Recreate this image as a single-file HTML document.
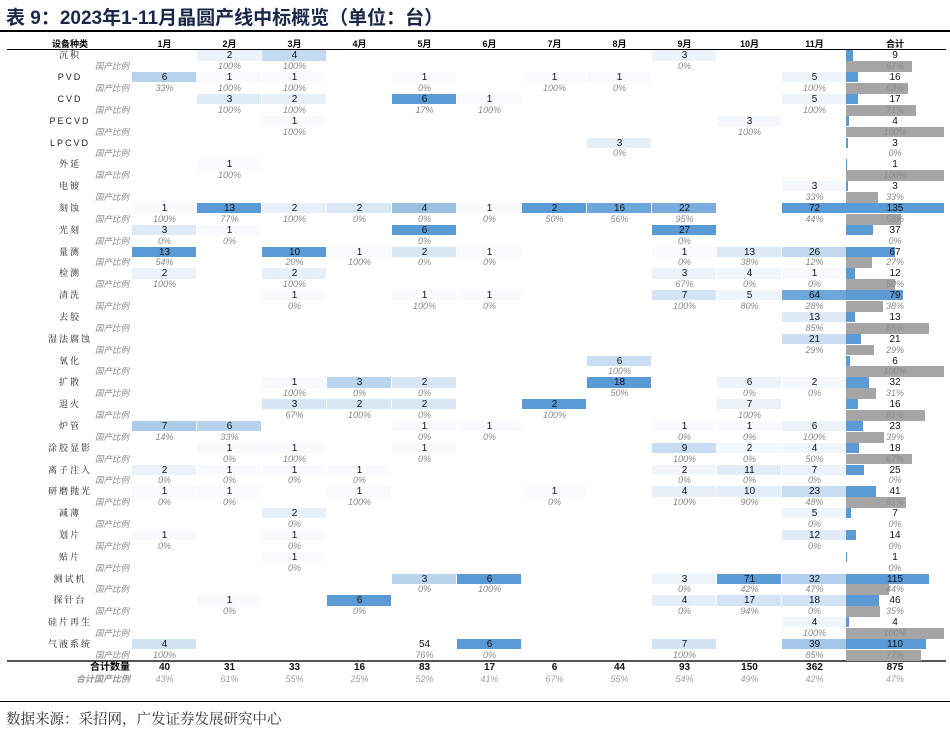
<!DOCTYPE html>
<html><head><meta charset="utf-8">
<style>
body{margin:0;width:950px;height:733px;background:#fff;position:relative;overflow:hidden;font-family:"Liberation Sans","Noto Sans CJK SC",sans-serif;}
.a{position:absolute;box-sizing:border-box;}
.t{position:absolute;text-align:center;white-space:nowrap;line-height:11px;}
.cnt{font-size:10px;color:#111;}
.rat{font-size:9px;font-style:italic;color:#8a8a8a;}
.cat{font-size:9px;color:#222;font-family:"Liberation Sans","Noto Serif CJK SC",serif;letter-spacing:2px;}
.gc{font-size:8.5px;font-style:italic;color:#8a8a8a;font-family:"Noto Sans CJK SC",sans-serif;}
.hd{font-size:9px;font-weight:bold;color:#000;}
</style></head><body>
<div class="a" style="left:6px;top:3px;font-size:19px;font-weight:bold;color:#1a2746;font-family:'Liberation Sans','Noto Sans CJK SC',sans-serif;white-space:nowrap;">表 9：2023年1-11月晶圆产线中标概览（单位：台）</div>
<div class="a" style="left:0;top:30px;width:950px;height:1.5px;background:#000;"></div>
<div class="a" style="left:7px;top:49px;width:939px;height:1px;background:#000;"></div>
<div class="a" style="left:7px;top:660px;width:939px;height:2px;background:#555;"></div>
<div class="a" style="left:0;top:701px;width:950px;height:1px;background:#000;"></div>
<div class="a" style="left:6px;top:708px;font-size:14.5px;color:#333;font-family:'Noto Serif CJK SC',serif;white-space:nowrap;">数据来源：采招网，广发证券发展研究中心</div>
<div id="tbl"></div>
<script>
const months=["1月","2月","3月","4月","5月","6月","7月","8月","9月","10月","11月"];
const categories=["沉积","PVD","CVD","PECVD","LPCVD","外延","电镀","刻蚀","光刻","量测","检测","清洗","去胶","湿法腐蚀","氧化","扩散","退火","炉管","涂胶显影","离子注入","研磨抛光","减薄","划片","贴片","测试机","探针台","硅片再生","气液系统"];
const counts=[
[null,2,4,null,null,null,null,null,3,null,null],
[6,1,1,null,1,null,1,1,null,null,5],
[null,3,2,null,6,1,null,null,null,null,5],
[null,null,1,null,null,null,null,null,null,3,null],
[null,null,null,null,null,null,null,3,null,null,null],
[null,1,null,null,null,null,null,null,null,null,null],
[null,null,null,null,null,null,null,null,null,null,3],
[1,13,2,2,4,1,2,16,22,null,72],
[3,1,null,null,6,null,null,null,27,null,null],
[13,null,10,1,2,1,null,null,1,13,26],
[2,null,2,null,null,null,null,null,3,4,1],
[null,null,1,null,1,1,null,null,7,5,64],
[null,null,null,null,null,null,null,null,null,null,13],
[null,null,null,null,null,null,null,null,null,null,21],
[null,null,null,null,null,null,null,6,null,null,null],
[null,null,1,3,2,null,null,18,null,6,2],
[null,null,3,2,2,null,2,null,null,7,null],
[7,6,null,null,1,1,null,null,1,1,6],
[null,1,1,null,1,null,null,null,9,2,4],
[2,1,1,1,null,null,null,null,2,11,7],
[1,1,null,1,null,null,1,null,4,10,23],
[null,null,2,null,null,null,null,null,null,null,5],
[1,null,1,null,null,null,null,null,null,null,12],
[null,null,1,null,null,null,null,null,null,null,null],
[null,null,null,null,3,6,null,null,3,71,32],
[null,1,null,6,null,null,null,null,4,17,18],
[null,null,null,null,null,null,null,null,null,null,4],
[4,null,null,null,54,6,null,null,7,null,39]];
const ratios=[
[null,100,100,null,null,null,null,null,0,null,null],
[33,100,100,null,0,null,100,0,null,null,100],
[null,100,100,null,17,100,null,null,null,null,100],
[null,null,100,null,null,null,null,null,null,100,null],
[null,null,null,null,null,null,null,0,null,null,null],
[null,100,null,null,null,null,null,null,null,null,null],
[null,null,null,null,null,null,null,null,null,null,33],
[100,77,100,0,0,0,50,56,95,null,44],
[0,0,null,null,0,null,null,null,0,null,null],
[54,null,20,100,0,0,null,null,0,38,12],
[100,null,100,null,null,null,null,null,67,0,0],
[null,null,0,null,100,0,null,null,100,80,28],
[null,null,null,null,null,null,null,null,null,null,85],
[null,null,null,null,null,null,null,null,null,null,29],
[null,null,null,null,null,null,null,100,null,null,null],
[null,null,100,0,0,null,null,50,null,0,0],
[null,null,67,100,0,null,100,null,null,100,null],
[14,33,null,null,0,0,null,null,0,0,100],
[null,0,100,null,0,null,null,null,100,0,50],
[0,0,0,0,null,null,null,null,0,0,0],
[0,0,null,100,null,null,0,null,100,90,48],
[null,null,0,null,null,null,null,null,null,null,0],
[0,null,0,null,null,null,null,null,null,null,0],
[null,null,0,null,null,null,null,null,null,null,null],
[null,null,null,null,0,100,null,null,0,42,47],
[null,0,null,0,null,null,null,null,0,94,0],
[null,null,null,null,null,null,null,null,null,null,100],
[100,null,null,null,76,0,null,null,100,null,85]];
const totals=[9,16,17,4,3,1,3,135,37,67,12,79,13,21,6,32,16,23,18,25,41,7,14,1,115,46,4,110];
const totalRatios=[67,63,71,100,0,100,33,56,0,27,50,38,85,29,100,31,81,39,67,0,61,0,0,0,44,35,100,77];
const monthTotals=[40,31,33,16,83,17,6,44,93,150,362];
const monthRatios=[43,61,55,25,52,41,67,55,54,49,42];
const grandTotal=875, grandRatio=47;
const unshaded=[[27,4]];

const T=document.getElementById('tbl');
const X0=132,CW=65,Y0=50.3,RH=10.9,TX=846,TW=98;
const colX=i=>X0+i*CW;
const rowY=k=>Y0+k*2*RH;
const barMax=Math.max(...totals);
function txt(cls,x,y,w,s){const d=document.createElement('div');d.className='t '+cls;d.style.left=x+'px';d.style.top=y+'px';d.style.width=w+'px';d.textContent=s;T.appendChild(d);return d;}
function box(x,y,w,h,c){const d=document.createElement('div');d.className='a';d.style.cssText+=`left:${x}px;top:${y}px;width:${w}px;height:${h}px;background:${c};`;T.appendChild(d);return d;}
let h=txt('hd',20,39,100,'设备种类');


months.forEach((m,i)=>{const e=txt('hd',colX(i),39,CW,m);

});
h=txt('hd',TX,39,TW,'合计');


const cmin=[],cmax=[];
months.forEach((m,i)=>{let vals=[];counts.forEach((r,k)=>{if(r[i]!=null&&!unshaded.some(u=>u[0]==k&&u[1]==i))vals.push(r[i]);});cmin.push(Math.min(...vals));cmax.push(Math.max(...vals));});
function shade(t){const a=[248,250,253],b=[91,155,213];return `rgb(${a.map((v,j)=>Math.round(v+(b[j]-v)*t)).join(',')})`;}
categories.forEach((c,k)=>{
  const y=rowY(k);
  let e=txt('cat',20,y,100,c);
  
  
  e=txt('gc',80,y+RH,64,'国产比例');
  
  
  months.forEach((m,i)=>{
    const v=counts[k][i];
    if(v!=null){
      if(!unshaded.some(u=>u[0]==k&&u[1]==i)){
        const t=cmax[i]>cmin[i]?(v-cmin[i])/(cmax[i]-cmin[i]):0;
        const b=box(colX(i),y,CW-1,RH-0.5,shade(t));
        
        
      }
      e=txt('cnt',colX(i),y,CW,String(v));
      
      
    }
    const r=ratios[k][i];
    if(r!=null){e=txt('rat',colX(i),y+RH,CW,r+'%');
      
      }
  });
  let b=box(TX,y,Math.max(1,totals[k]/barMax*TW),RH-0.5,'#5b9bd5');
  
  
  if(totalRatios[k]>0){b=box(TX,y+RH,totalRatios[k]/100*TW,RH,'#a5a5a5');
  
  }
  e=txt('cnt',TX,y,TW,String(totals[k]));
  
  
  e=txt('rat',TX,y+RH,TW,totalRatios[k]+'%');
  
  
});
let e=txt('hd',60,662,70,'合计数量');e.style.textAlign='right';e.style.fontSize='10px';


e=txt('hd',40,674,90,'合计国产比例');e.style.textAlign='right';e.style.color='#9a9a9a';e.style.fontStyle='italic';


monthTotals.forEach((v,i)=>{e=txt('cnt',colX(i),662,CW,String(v));e.style.fontWeight='bold';


e=txt('rat',colX(i),674,CW,monthRatios[i]+'%');e.style.color='#a0a0a0';

});
e=txt('cnt',TX,662,TW,String(grandTotal));e.style.fontWeight='bold';


e=txt('rat',TX,674,TW,grandRatio+'%');e.style.color='#a0a0a0';


</script>
</body></html>
